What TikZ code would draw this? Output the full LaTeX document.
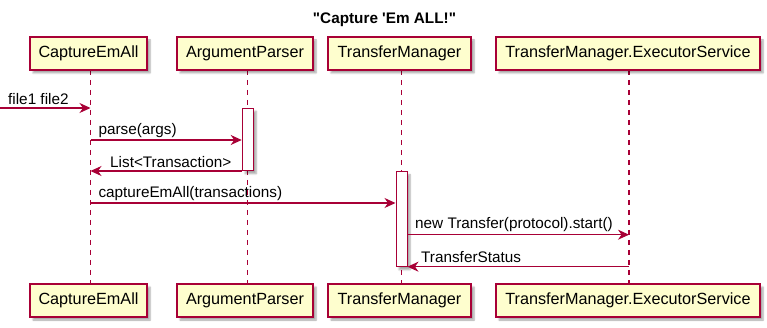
\documentclass[tikz,border=0pt]{standalone}
\usepackage{fontspec}
\newfontfamily\umlfont{Liberation Sans}
\usetikzlibrary{arrows.meta,shadows.blur}
\definecolor{umlred}{HTML}{A80036}
\definecolor{umlfill}{HTML}{FEFECE}
\begin{document}
\begin{tikzpicture}[x=1pt,y=-1pt,
  umlshadow/.style={blur shadow={shadow xshift=3pt,shadow yshift=-3pt,shadow blur steps=6,shadow opacity=35}},
  participant/.style={draw=umlred,fill=umlfill,line width=1.4pt,minimum height=33pt,inner sep=0pt,
    font=\umlfont\fontsize{16.2}{18}\selectfont,umlshadow},
  activation/.style={draw=umlred,fill=white,line width=1pt,inner sep=0pt,umlshadow},
  lifeline/.style={draw=umlred,line width=1.1pt,dash pattern=on 5pt off 5pt},
  msg/.style={draw=umlred,line width=1.1pt,-{Stealth[length=11pt,width=10pt,inset=3.5pt]}},
  msglabel/.style={anchor=west,inner sep=0pt,font=\umlfont\fontsize{15.3}{17}\selectfont},
  title/.style={inner sep=0pt,font=\umlfont\bfseries\fontsize{15.3}{17}\selectfont}]
\useasboundingbox (0,0) rectangle (767,328);

% title
\node[title] (ttl) at (384.5,20) {"Capture \textquotesingle Em ALL!"};

% lifelines drawn first so that boxes sit on top
\coordinate (c-top) at (90.5,70);  \coordinate (c-bot) at (90.5,284);
\coordinate (a-top) at (247.5,70); \coordinate (a-bot) at (247.5,284);
\coordinate (t-top) at (401.7,70); \coordinate (t-bot) at (401.7,284);
\coordinate (e-top) at (629,70);   \coordinate (e-bot) at (629,284);
\draw[lifeline] (c-top) -- (c-bot);
\draw[lifeline] (a-top) -- (a-bot);
\draw[lifeline] (t-top) -- (t-bot);
\draw[lifeline] (e-top) -- (e-bot);

% participants, top row
\node[participant,minimum width=117pt] (cap)  at (88.5,53.5)  {CaptureEmAll};
\node[participant,minimum width=136pt] (arg)  at (245,53.5)   {ArgumentParser};
\node[participant,minimum width=143pt] (tm)   at (399.5,53.5) {TransferManager};
\node[participant,minimum width=264pt] (exe)  at (628,53.5)   {TransferManager.ExecutorService};

% participants, bottom row
\node[participant,minimum width=117pt] (capB) at (88.5,300.5)  {CaptureEmAll};
\node[participant,minimum width=136pt] (argB) at (245,300.5)   {ArgumentParser};
\node[participant,minimum width=143pt] (tmB)  at (399.5,300.5) {TransferManager};
\node[participant,minimum width=264pt] (exeB) at (628,300.5)   {TransferManager.ExecutorService};

% activation bars
\node[activation,minimum width=11pt,minimum height=62.4pt] (actArg) at (247.7,139.5) {};
\node[activation,minimum width=11pt,minimum height=95pt]   (actTm)  at (401.5,219.2) {};

% message end points
\coordinate (in)   at (0,108);
\coordinate (m1a)  at (90.5,108);
\coordinate (m2a)  at (90.5,140);
\coordinate (m3a)  at (90.5,171);
\coordinate (m4a)  at (90.5,203);
\coordinate (m5b)  at (629,234.7);
\coordinate (m6a)  at (629,266.7);

% messages
\draw[msg] (in) -- (m1a);
\node[msglabel] (l1) at (8,99.5) {file1 file2};

\draw[msg] (m2a) -- (m2a -| actArg.west);
\node[msglabel] (l2) at (98.3,130.7) {parse(args)};

\draw[msg] (m3a -| actArg.west) -- (m3a);
\node[msglabel] (l3) at (110,162) {List<Transaction>};

\draw[msg] (m4a) -- (m4a -| actTm.west);
\node[msglabel] (l4) at (98.3,193.3) {captureEmAll(transactions)};

\draw[msg] (m5b -| actTm.east) -- (m5b);
\node[msglabel] (l5) at (415,225) {new Transfer(protocol).start()};

\draw[msg] (m6a) -- (m6a -| actTm.east);
\node[msglabel] (l6) at (421,256.7) {TransferStatus};
\end{tikzpicture}
\end{document}
